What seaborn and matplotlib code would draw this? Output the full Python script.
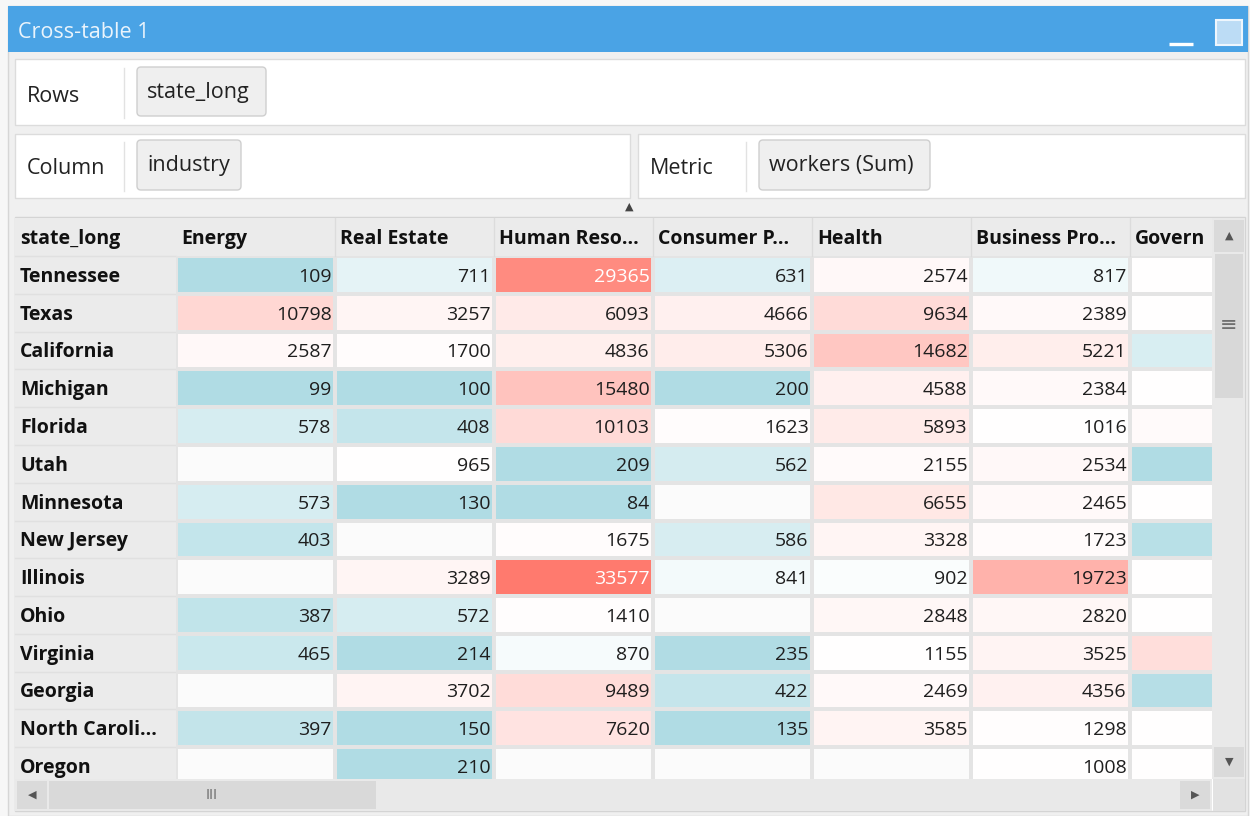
import numpy as np
import pandas as pd
import matplotlib
matplotlib.use("Agg")
import matplotlib.pyplot as plt
import seaborn as sns
from matplotlib.colors import LinearSegmentedColormap, TwoSlopeNorm
from matplotlib.patches import Rectangle, FancyBboxPatch
from matplotlib.transforms import blended_transform_factory

# data (Govern column values only guessed from cell colour)
states = ["Tennessee", "Texas", "California", "Michigan", "Florida", "Utah", "Minnesota",
          "New Jersey", "Illinois", "Ohio", "Virginia", "Georgia", "North Carolina", "Oregon"]
state_labels = ["Tennessee", "Texas", "California", "Michigan", "Florida", "Utah", "Minnesota",
                "New Jersey", "Illinois", "Ohio", "Virginia", "Georgia", "North Caroli...", "Oregon"]
industries = ["Energy", "Real Estate", "Human Resources", "Consumer Products", "Health",
              "Business Products", "Government"]
industry_labels = ["Energy", "Real Estate", "Human Reso...", "Consumer P...", "Health",
                   "Business Pro...", "Govern"]

energy = [109, 10798, 2587, 99, 578, np.nan, 573, 403, np.nan, 387, 465, np.nan, 397, np.nan]
real_estate = [711, 3257, 1700, 100, 408, 965, 130, np.nan, 3289, 572, 214, 3702, 150, 210]
human_res = [29365, 6093, 4836, 15480, 10103, 209, 84, 1675, 33577, 1410, 870, 9489, 7620, np.nan]
consumer = [631, 4666, 5306, 200, 1623, 562, np.nan, 586, 841, np.nan, 235, 422, 135, np.nan]
health = [2574, 9634, 14682, 4588, 5893, 2155, 6655, 3328, 902, 2848, 1155, 2469, 3585, np.nan]
business = [817, 2389, 5221, 2384, 1016, 2534, 2465, 1723, 19723, 2820, 3525, 4356, 1298, 1008]
government = [1000, 1000, 590, 960, 2000, 150, 980, 300, 1000, 1000, 9000, 280, 990, 1000]

df = pd.DataFrame(
    dict(zip(industries, [energy, real_estate, human_res, consumer, health, business, government])),
    index=states)

plt.rcParams['font.family'] = ['Open Sans', 'DejaVu Sans']

W, H = 1250, 816
fig = plt.figure(figsize=(W / 100, H / 100), dpi=100)
fig.patch.set_facecolor('#f7f7f7')

# background axes in pixel coordinates for the window chrome
bg = fig.add_axes([0, 0, 1, 1])
bg.set_xlim(0, W)
bg.set_ylim(H, 0)
bg.axis('off')


def box(a, x0, y0, x1, y1, fc, ec='none', lw=1.0, z=1):
    a.add_patch(Rectangle((x0, y0), x1 - x0, y1 - y0, fc=fc, ec=ec, lw=lw, zorder=z))


def chip(x0, y0, x1, y1, text):
    bg.add_patch(FancyBboxPatch((x0, y0), x1 - x0, y1 - y0,
                                boxstyle="round,pad=0,rounding_size=4",
                                fc='#efefef', ec='#cfcfcf', lw=1.0, zorder=3))
    bg.text(x0 + 10, (y0 + y1) / 2 + 1, text, fontsize=15.5, color='#222222',
            ha='left', va='center', zorder=4)


# window + title bar
box(bg, 8, 6, 1248, 816, '#f0f0f0', '#d6d6d6', 1.0)
box(bg, 8, 6, 1248, 52, '#4aa3e5')
bg.text(18, 33, "Cross-table 1", fontsize=15.5, color='#eaf4fc', ha='left', va='center')
bg.plot([1169, 1193], [44, 44], color='white', lw=2.4, solid_capstyle='butt')
box(bg, 1216, 20, 1242, 45, '#bcdcf5', '#eef6fd', 1.5, z=2)

# Rows panel
box(bg, 15, 59, 1245, 125, 'white', '#dcdcdc')
bg.text(27, 97, "Rows", fontsize=15.5, color='#222222', ha='left', va='center')
bg.plot([124, 124], [68, 118], color='#e2e2e2', lw=1)
chip(137, 67, 266, 116, "state_long")

# Column panel
box(bg, 15, 134, 630, 198, 'white', '#dcdcdc')
bg.text(27, 169, "Column", fontsize=15.5, color='#222222', ha='left', va='center')
bg.plot([124, 124], [142, 191], color='#e2e2e2', lw=1)
chip(137, 140, 241, 190, "industry")

# Metric panel
box(bg, 638, 134, 1245, 198, 'white', '#dcdcdc')
bg.text(650, 169, "Metric", fontsize=15.5, color='#222222', ha='left', va='center')
bg.plot([746, 746], [142, 191], color='#e2e2e2', lw=1)
chip(759, 140, 930, 190, "workers (Sum)")

bg.text(629, 207, "▲", fontsize=8, color='#444444', ha='center', va='center',
        family='DejaVu Sans')

# table frame, header row, row header column
box(bg, 15, 217, 1245, 811, 'white', '#d4d4d4')
box(bg, 15, 218, 1212, 256, '#ebebeb')
box(bg, 15, 218, 176, 779, '#ebebeb')
bg.text(20, 239, "state_long", fontsize=14, fontweight='bold', color='#111111',
        ha='left', va='center')

# heatmap area
L, R, T, B = 176, 1212, 256, 779
ax = fig.add_axes([L / W, 1 - B / H, (R - L) / W, (B - T) / H])
ax.set_facecolor('#fbfbfb')
cmap = LinearSegmentedColormap.from_list('xtab', ['#b0dce4', '#ffffff', '#ff7a6e'])
norm = TwoSlopeNorm(vmin=226, vcenter=950, vmax=33577)
sns.heatmap(df, ax=ax, cmap=cmap, norm=norm, cbar=False, linewidths=1.5,
            linecolor='#e4e4e4', xticklabels=False, yticklabels=False)
x_visible = 6.515
ax.set_xlim(0, x_visible)
ax.set_ylim(13.84, 0)
ax.set_xlabel('')
ax.set_ylabel('')

# value labels (the last column's numbers sit past the visible edge, so they are not drawn)
vals = df.to_numpy()
for i in range(vals.shape[0]):
    for j in range(vals.shape[1]):
        v = vals[i, j]
        if np.isnan(v) or j + 1 > x_visible:
            continue
        ax.text(j + 1 - 0.022, i + 0.55, f"{int(v)}", fontsize=14,
                color='white' if v > 25000 else '#1e1e1e',
                ha='right', va='center', clip_on=True)

# column headers
for j, lab in enumerate(industry_labels):
    ax.text(j + 0.03, -0.45, lab, fontsize=14, fontweight='bold', color='#111111',
            ha='left', va='center', clip_on=False)
    if j > 0:
        ax.plot([j, j], [-1.0, 0], color='#dcdcdc', lw=1, clip_on=False)

# row headers
blend = blended_transform_factory(bg.transData, ax.transData)
for i, lab in enumerate(state_labels):
    bg.text(20, i + 0.55, lab, transform=blend, fontsize=14, fontweight='bold',
            color='#111111', ha='left', va='center')
    bg.plot([15, 176], [i, i], transform=blend, color='#e0e0e0', lw=1)

# scrollbars on top
ov = fig.add_axes([0, 0, 1, 1])
ov.set_xlim(0, W)
ov.set_ylim(H, 0)
ov.axis('off')
ov.patch.set_alpha(0)
box(ov, 1212, 218, 1245, 779, '#e9e9e9')
box(ov, 1214, 220, 1244, 252, '#dadada')
ov.text(1229, 236, "▲", fontsize=8, color='#555555', ha='center', va='center', family='DejaVu Sans')
box(ov, 1215, 254, 1243, 398, '#d8d8d8')
ov.text(1229, 325, "≡", fontsize=15, color='#707070', ha='center', va='center', family='DejaVu Sans')
box(ov, 1214, 747, 1244, 777, '#dadada')
ov.text(1229, 762, "▼", fontsize=8, color='#555555', ha='center', va='center', family='DejaVu Sans')
box(ov, 15, 779, 1212, 811, '#e9e9e9')
box(ov, 17, 781, 47, 809, '#dadada')
ov.text(32, 795, "◀", fontsize=8, color='#555555', ha='center', va='center', family='DejaVu Sans')
box(ov, 49, 781, 376, 809, '#d9d9d9')
ov.text(212, 795, "III", fontsize=10, color='#707070', ha='center', va='center', family='DejaVu Sans')
box(ov, 1180, 781, 1210, 809, '#dadada')
ov.text(1195, 795, "▶", fontsize=8, color='#555555', ha='center', va='center', family='DejaVu Sans')
box(ov, 1213, 779, 1245, 811, '#e2e2e2')

fig.savefig('out.png', dpi=100, facecolor=fig.get_facecolor())
